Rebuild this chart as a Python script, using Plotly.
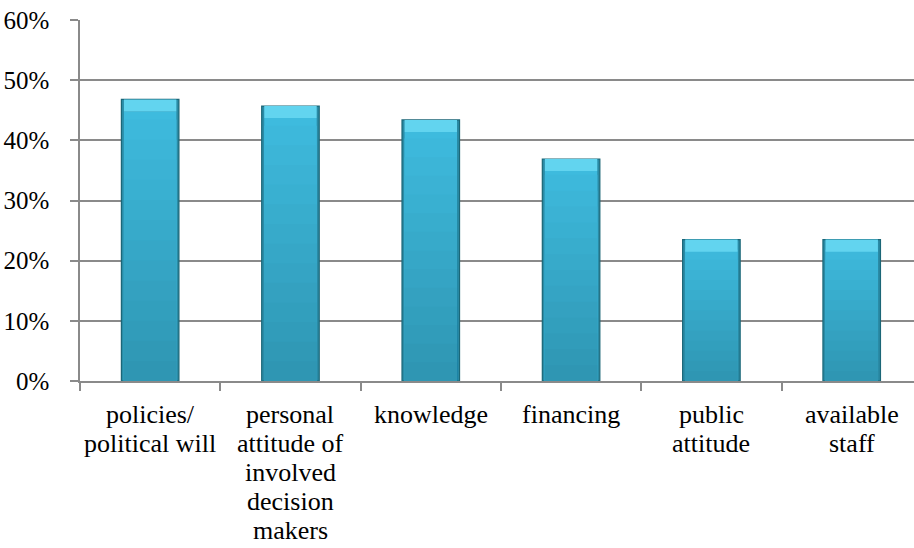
import plotly.graph_objects as go

# Survey results: share of respondents naming each factor
categories = [
    "policies/\npolitical will",
    "personal\nattitude of\ninvolved\ndecision\nmakers",
    "knowledge",
    "financing",
    "public\nattitude",
    "available\nstaff",
]
values = [0.468, 0.457, 0.434, 0.369, 0.235, 0.235]

y_ticks = [0, 0.1, 0.2, 0.3, 0.4, 0.5, 0.6]
y_tick_labels = ["0%", "10%", "20%", "30%", "40%", "50%", "60%"]

FONT = "Liberation Serif"
GRID = "#8a8a8a"
BAR_W = 0.41
EDGE_W = 0.036          # darker side edges of each column
BEVEL = 0.02            # height of the light top bevel (in value units)

x_keys = [c.replace("\n", " ") for c in categories]

fig = go.Figure()

# outer column with dark outline
fig.add_trace(go.Bar(
    x=x_keys, y=values, width=BAR_W,
    marker=dict(color="#2a8ba6", line=dict(color="#1b6677", width=1.2)),
    hoverinfo="skip",
))

# stepped vertical shading: lighter near the top, darker near the base
top_rgb = (0x3e, 0xbb, 0xde)
bot_rgb = (0x2f, 0x96, 0xb3)
steps = 14
for k in range(steps):
    f = 1 - k / steps
    t = k / (steps - 1)
    rgb = tuple(round(a + (b - a) * t) for a, b in zip(top_rgb, bot_rgb))
    fig.add_trace(go.Bar(
        x=x_keys, y=[v * f - (BEVEL if k == 0 else 0) for v in values],
        width=BAR_W - EDGE_W,
        marker=dict(color="rgb(%d,%d,%d)" % rgb, line=dict(width=0)),
        hoverinfo="skip",
    ))

# light bevel across the top of each column
fig.add_trace(go.Bar(
    x=x_keys, y=[BEVEL] * len(values), base=[v - BEVEL for v in values],
    width=BAR_W - EDGE_W,
    marker=dict(color="#62d4ef", line=dict(width=0)),
    hoverinfo="skip",
))

# category labels, one text line per annotation for tight line spacing
LINE_H = 29
for key, cat in zip(x_keys, categories):
    for i, line in enumerate(cat.split("\n")):
        fig.add_annotation(
            x=key, xref="x", y=0, yref="paper",
            yanchor="top", xanchor="center",
            yshift=-(17 + i * LINE_H),
            text=line, showarrow=False,
            font=dict(family=FONT, size=26, color="black"),
        )

fig.update_layout(
    width=914, height=548,
    margin=dict(l=80, r=0, t=20, b=167),
    barmode="overlay",
    showlegend=False,
    plot_bgcolor="white",
    paper_bgcolor="white",
    font=dict(family=FONT, size=25, color="black"),
)

fig.update_xaxes(
    type="category",
    range=[-0.5, 5.444],
    showticklabels=False,
    ticks="outside", tickson="boundaries", ticklen=8,
    tickcolor=GRID, tickwidth=1.5,
    showline=True, linecolor=GRID, linewidth=1.5,
    showgrid=False, zeroline=False,
)

fig.update_yaxes(
    range=[0, 0.6],
    tickvals=y_ticks, ticktext=y_tick_labels,
    ticks="outside", ticklen=8, tickcolor=GRID, tickwidth=1.5,
    ticklabelstandoff=16,
    showline=True, linecolor=GRID, linewidth=1.5,
    showgrid=True, gridcolor=GRID, gridwidth=1.5,
    zeroline=False,
    tickfont=dict(family=FONT, size=25, color="black"),
)

fig.write_html("out.html")
